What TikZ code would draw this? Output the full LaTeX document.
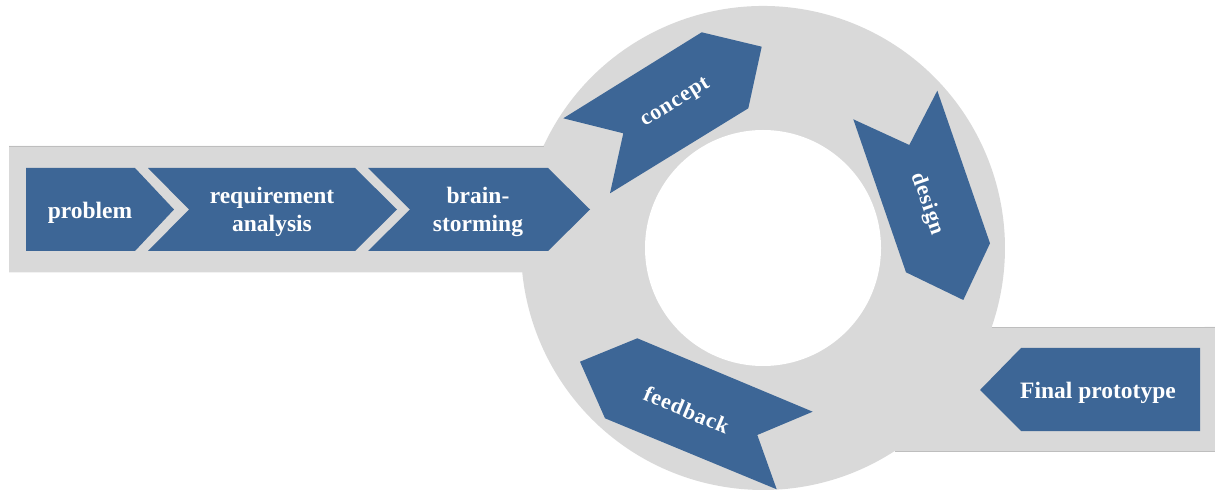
\documentclass[tikz,border=0pt]{standalone}
\usepackage{fontspec}
\setmainfont{Liberation Serif}
\definecolor{stepblue}{HTML}{3D6696}
\definecolor{bandgray}{HTML}{D9D9D9}
\definecolor{bandedge}{HTML}{BEBEBE}
\begin{document}
\begin{tikzpicture}[x=1pt,y=1pt,
  stepshape/.style={fill=stepblue, draw=none},
  steptext/.style={text=white, font=\bfseries\fontsize{23.5}{28}\selectfont, inner sep=0pt, align=center},
  ringtext/.style={text=white, font=\bfseries\fontsize{22}{25}\selectfont\addfontfeature{LetterSpace=4}, inner sep=0pt},
  edgeline/.style={draw=bandedge, line width=0.8pt},
]
\useasboundingbox (0,0) rectangle (1215,490);

% grey track: entry band, ring and exit band
\fill[bandgray] (9,344) -- (543.5,344)
  arc[start angle=155.07, end angle=-19.06, radius=242]
  -- (1215,163) -- (1215,39) -- (894.7,39)
  arc[start angle=-57.03, end angle=-174.19, radius=242]
  -- (9,217.5) -- cycle;
\fill[white] (763,242) circle[radius=118];
\path[edgeline] (9,344) -- (543.5,344);
\path[edgeline] (991.7,163) -- (1215,163);
\path[edgeline] (894.7,39) -- (1215,39);

% linear steps
\fill[stepshape] (26,322) -- (135,322) -- (174,280.5) -- (135,239) -- (26,239) -- cycle;
\fill[stepshape] (148,322) -- (355,322) -- (397,280.5) -- (355,239) -- (148,239) -- (189,280.5) -- cycle;
\fill[stepshape] (368,322) -- (548,322) -- (590,280.5) -- (548,239) -- (368,239) -- (410,280.5) -- cycle;

% exit step
\fill[stepshape] (1200,142) -- (1200,59) -- (1021,59) -- (980,100) -- (1021,142) -- cycle;

% ring steps
\fill[stepshape] (563.3,371.7) -- (701.7,457.7) -- (761.7,443.3) -- (748.3,381.7) -- (610,296.7) -- (623.3,356.7) -- cycle;
\fill[stepshape] (937.3,399.3) -- (990,246.7) -- (963.3,190) -- (906,217.7) -- (853.3,370.7) -- (909.3,345) -- cycle;
\fill[stepshape] (580,128.3) -- (637.3,151.7) -- (812.7,78.3) -- (757.3,55) -- (776.7,0.7) -- (605,71.7) -- cycle;

% labels (two-line labels sit on the baseline of their last line)
\node[steptext, anchor=base] (problem) at (90,271.7) {problem};
\node[steptext, anchor=base] (req) at (272,258) {requirement\\analysis};
\node[steptext, anchor=base] (brain) at (478,258) {brain-\\storming};
\node[steptext, anchor=base] (final) at (1098,91) {Final prototype};
\node[ringtext, rotate=31.8] (concept) at (675.7,386.7) {concept};
\node[ringtext, rotate=-71] (design) at (927.3,286) {design};
\node[ringtext, rotate=-22.7] (feedback) at (686.7,80) {feedback};
\end{tikzpicture}
\end{document}
